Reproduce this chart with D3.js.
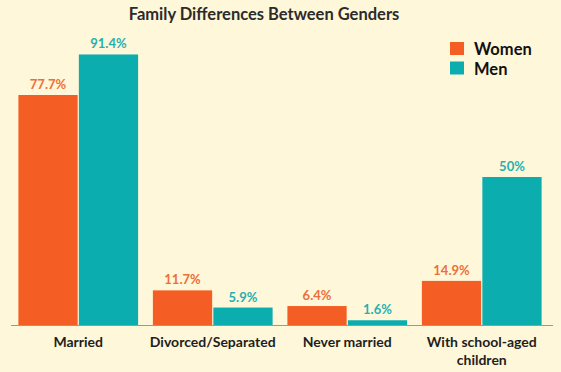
<!DOCTYPE html>
<html>
<head>
<meta charset="utf-8">
<script src="https://cdn.jsdelivr.net/npm/d3@7"></script>
<style>
  body { margin: 0; background: #fff7d9; }
  text { font-family: Lato, "Open Sans", sans-serif; }
</style>
</head>
<body>
<div id="chart"></div>
<script>
var categories = ["Married", "Divorced/Separated", "Never married", "With school-aged children"];
var seriesNames = ["Women", "Men"];
var women = [77.7, 11.7, 6.4, 14.9];
var men = [91.4, 5.9, 1.6, 50];
var valueLabels = [["77.7%", "11.7%", "6.4%", "14.9%"], ["91.4%", "5.9%", "1.6%", "50%"]];

var width = 561,
  height = 372;

var colors = ["#f45d24", "#0badaf"];
var textColors = ["#ec6f3a", "#1fb1b1"];

var svg = d3.select("#chart")
  .append("svg")
  .attr("width", width)
  .attr("height", height);

svg.append("rect")
  .attr("width", width)
  .attr("height", height)
  .attr("fill", "#fff7d9");

// scales
var x0 = d3.scaleBand()
  .domain(categories)
  .range([11, 549])
  .paddingInner(0.11)
  .paddingOuter(0.055);

var x1 = d3.scaleBand()
  .domain(seriesNames)
  .range([0, x0.bandwidth()])
  .paddingInner(0.02);

var y = d3.scaleLinear()
  .domain([0, 100])
  .range([325, 29]);

var data = categories.map(function(c, i) {
  return { cat: c, values: [women[i], men[i]], labels: [valueLabels[0][i], valueLabels[1][i]] };
});

// title
svg.append("text")
  .attr("x", 264)
  .attr("y", 20)
  .attr("text-anchor", "middle")
  .attr("font-size", "16.5px")
  .attr("font-weight", "bold")
  .attr("fill", "#2b2b2b")
  .text("Family Differences Between Genders");

// bars
var groups = svg.selectAll(".group")
  .data(data)
  .enter().append("g")
  .attr("class", "group")
  .attr("transform", function(d) { return "translate(" + x0(d.cat) + ",0)"; });

function pairs(d) {
  return seriesNames.map(function(s, j) { return { s: s, v: d.values[j], label: d.labels[j], j: j }; });
}

groups.selectAll("rect")
  .data(pairs)
  .enter().append("rect")
  .attr("x", function(d) { return x1(d.s); })
  .attr("y", function(d) { return y(d.v); })
  .attr("width", x1.bandwidth())
  .attr("height", function(d) { return y(0) - y(d.v); })
  .attr("fill", function(d) { return colors[d.j]; });

groups.selectAll(".val")
  .data(pairs)
  .enter().append("text")
  .attr("class", "val")
  .attr("x", function(d) { return x1(d.s) + x1.bandwidth() / 2; })
  .attr("y", function(d) { return y(d.v) - 6; })
  .attr("text-anchor", "middle")
  .attr("font-size", "13px")
  .attr("font-weight", "bold")
  .attr("fill", function(d) { return textColors[d.j]; })
  .text(function(d) { return d.label; });

// baseline
svg.append("line")
  .attr("x1", 11)
  .attr("x2", 553)
  .attr("y1", y(0) + 0.5)
  .attr("y2", y(0) + 0.5)
  .attr("stroke", "#999")
  .attr("stroke-width", 1);

// category labels
var catLines = [["Married"], ["Divorced/Separated"], ["Never married"], ["With school-aged", "children"]];
svg.selectAll(".cat")
  .data(categories)
  .enter().append("text")
  .attr("class", "cat")
  .attr("x", function(d) { return x0(d) + x0.bandwidth() / 2; })
  .attr("y", 347)
  .attr("text-anchor", "middle")
  .attr("font-size", "14px")
  .attr("font-weight", "bold")
  .attr("fill", "#1e1e1e")
  .each(function(d, i) {
    var t = d3.select(this);
    catLines[i].forEach(function(line, k) {
      t.append("tspan")
        .attr("x", x0(d) + x0.bandwidth() / 2)
        .attr("dy", k === 0 ? 0 : 18)
        .text(line);
    });
  });

// legend
var legend = svg.append("g")
  .attr("transform", "translate(450,42)");

legend.selectAll("rect")
  .data(seriesNames)
  .enter().append("rect")
  .attr("x", 0)
  .attr("y", function(d, i) { return i * 19.5; })
  .attr("width", 14)
  .attr("height", 13)
  .attr("fill", function(d, i) { return colors[i]; });

legend.selectAll("text")
  .data(seriesNames)
  .enter().append("text")
  .attr("x", 24)
  .attr("y", function(d, i) { return i * 19.5 + 13; })
  .attr("font-size", "16.5px")
  .attr("font-weight", "bold")
  .attr("fill", "#111")
  .text(function(d) { return d; });
</script>
</body>
</html>
